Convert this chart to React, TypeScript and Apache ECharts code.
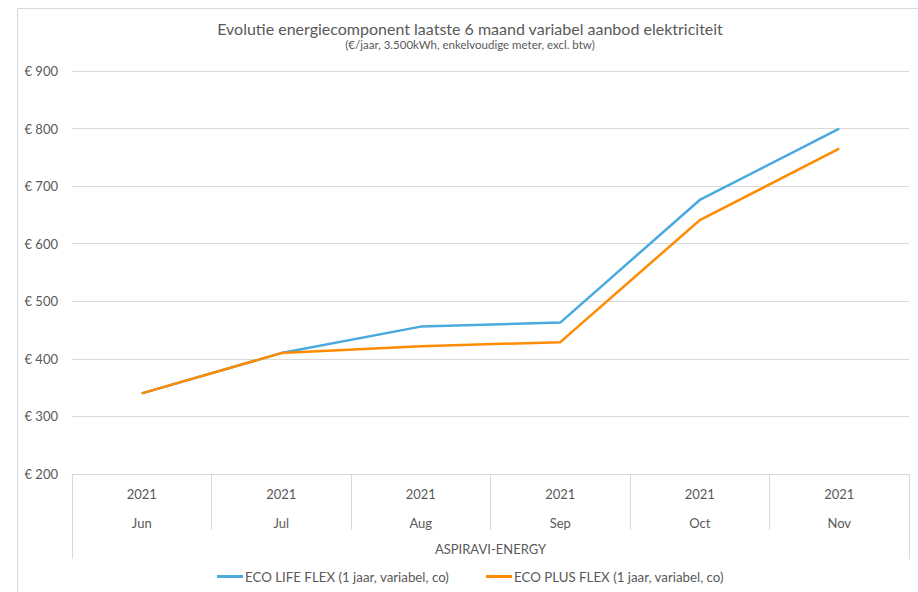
import React, { useEffect, useRef } from "react";
import * as echarts from "echarts";

const titleText = "Evolutie energiecomponent laatste 6 maand variabel aanbod elektriciteit";
const subtitleText = "(€/jaar, 3.500kWh, enkelvoudige meter, excl. btw)";
const years = ["2021", "2021", "2021", "2021", "2021", "2021"];
const months = ["Jun", "Jul", "Aug", "Sep", "Oct", "Nov"];
const groupLabel = "ASPIRAVI-ENERGY";
const seriesNames = ["ECO LIFE FLEX (1 jaar, variabel, co)", "ECO PLUS FLEX (1 jaar, variabel, co)"];
const ecoLife = [340, 410, 456, 463, 676, 800];
const ecoPlus = [340, 410, 422, 429, 641, 765];
const yMin = 200;
const yMax = 900;
const yStep = 100;

const FONT = "Lato, 'Noto Sans', sans-serif";
const TXT = "#595959";
const GRID = "#d9d9d9";
const BLUE = "#4AAAE0";
const ORANGE = "#FF8B00";

export default function App() {
  const ref = useRef<HTMLDivElement>(null);
  useEffect(() => {
    document.body.style.margin = "0";
    const chart = echarts.init(ref.current!, null, { renderer: "svg" });
    const cats = months.map((m, i) => years[i] + "|" + m);
    const legendBase = {
      top: 570,
      itemWidth: 26,
      itemHeight: 3,
      icon: "rect",
      padding: 0,
      textStyle: { fontFamily: FONT, fontSize: 13.3, color: TXT, padding: [0, 0, 0, -3] },
    };
    chart.setOption({
      animation: false,
      backgroundColor: "#fff",
      textStyle: { fontFamily: FONT },
      title: [
        {
          text: titleText,
          left: 470,
          top: 20,
          padding: 0,
          textAlign: "center",
          textStyle: { fontFamily: FONT, fontSize: 16, fontWeight: "normal", color: TXT },
        },
        {
          text: subtitleText,
          left: 470,
          top: 38.5,
          padding: 0,
          textAlign: "center",
          textStyle: { fontFamily: FONT, fontSize: 11.5, fontWeight: "normal", color: TXT },
        },
      ],
      graphic: [
        {
          type: "rect",
          shape: { x: 17.5, y: 8.5, width: 1000, height: 1000 },
          style: { fill: "none", stroke: GRID, lineWidth: 1 },
          silent: true,
        },
      ],
      legend: [
        { ...legendBase, left: 217, data: [seriesNames[0]] },
        { ...legendBase, left: 486, data: [seriesNames[1]] },
      ],
      grid: { left: 72, right: 9, top: 71, bottom: 118, containLabel: false },
      xAxis: [
        {
          type: "category",
          data: cats,
          boundaryGap: true,
          axisLine: { show: true, lineStyle: { color: GRID, width: 1 } },
          axisTick: { show: true, interval: 0, length: 56, lineStyle: { color: GRID } },
          axisLabel: {
            interval: 0,
            margin: 5,
            formatter: (v: string) => {
              const [y, m] = v.split("|");
              return "{y|" + y + "}\n{m|" + m + "}";
            },
            rich: {
              y: { fontFamily: FONT, fontSize: 13, color: TXT, lineHeight: 29 },
              m: { fontFamily: FONT, fontSize: 13, color: TXT, lineHeight: 29 },
            },
          },
        },
        {
          type: "category",
          data: [groupLabel],
          position: "bottom",
          boundaryGap: true,
          axisLine: { show: false },
          axisTick: { show: true, length: 85, lineStyle: { color: GRID } },
          axisLabel: { margin: 68, fontFamily: FONT, fontSize: 13, color: TXT },
        },
      ],
      yAxis: {
        type: "value",
        min: yMin,
        max: yMax,
        interval: yStep,
        axisLine: { show: false },
        axisTick: { show: false },
        splitLine: { lineStyle: { color: GRID, width: 1 } },
        axisLabel: {
          margin: 14,
          fontFamily: FONT,
          fontSize: 13,
          color: TXT,
          formatter: (v: number) => "€ " + v,
        },
      },
      series: [
        {
          name: seriesNames[0],
          type: "line",
          data: ecoLife,
          symbol: "none",
          lineStyle: { color: BLUE, width: 2.5 },
          itemStyle: { color: BLUE },
        },
        {
          name: seriesNames[1],
          type: "line",
          data: ecoPlus,
          symbol: "none",
          lineStyle: { color: ORANGE, width: 2.5 },
          itemStyle: { color: ORANGE },
        },
      ],
    });
    return () => chart.dispose();
  }, []);
  return <div ref={ref} style={{ width: 918, height: 592 }} />;
}
